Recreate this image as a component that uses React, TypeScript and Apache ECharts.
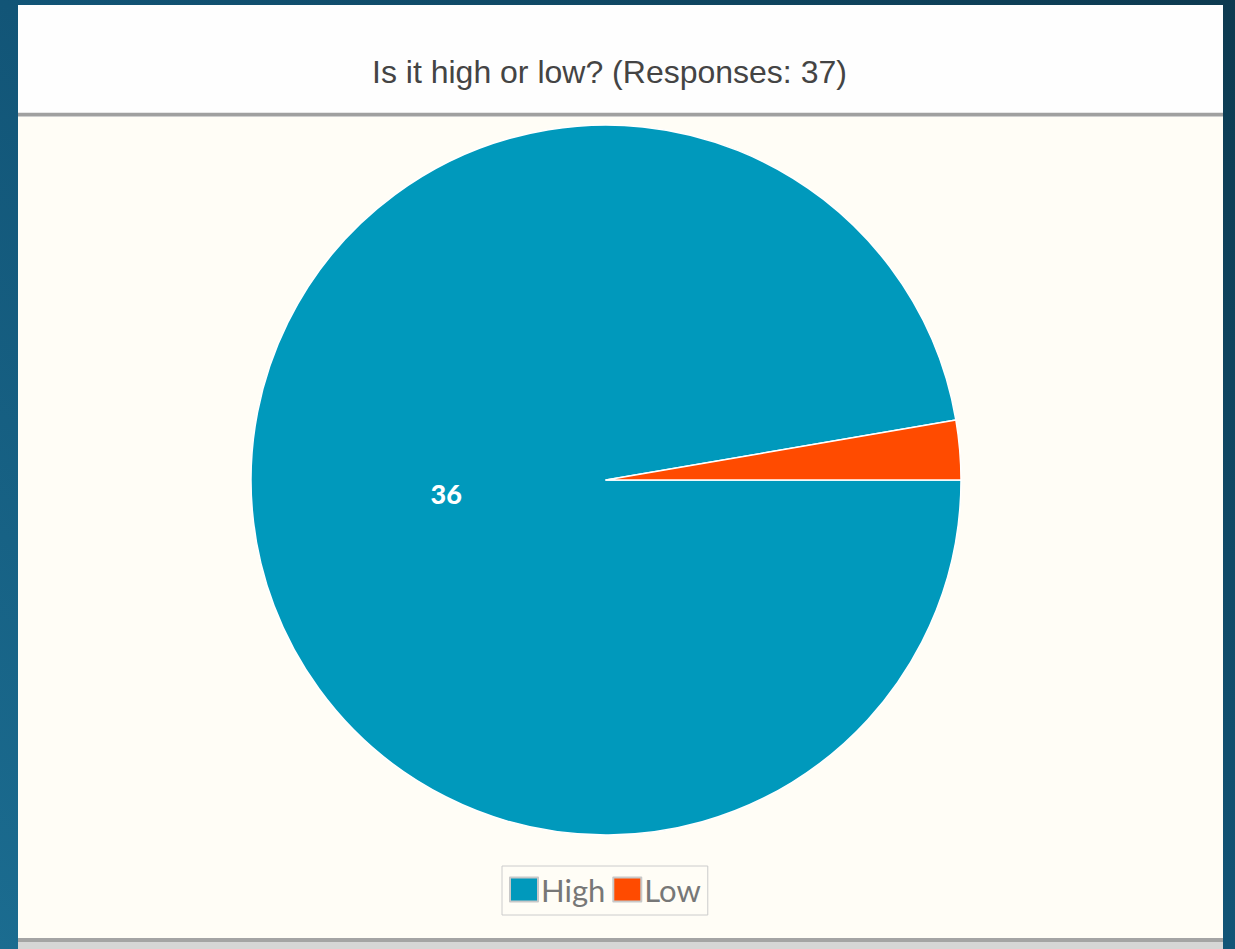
import React, { useEffect, useRef } from "react";
import * as echarts from "echarts";

const categories = ["High", "Low"];
const values = [36, 1];
const colors = ["#0099bc", "#ff4b00"];
const titleText = "Is it high or low? (Responses: 37)";

export default function App() {
  const ref = useRef<HTMLDivElement>(null);
  useEffect(() => {
    document.body.style.margin = "0";
    const chart = echarts.init(ref.current!, undefined, { renderer: "svg" });
    chart.setOption({
      animation: false,
      title: {
        text: titleText,
        left: 367,
        top: 51,
        textStyle: { fontFamily: "Liberation Sans", fontSize: 32, fontWeight: "normal", color: "#444" },
      },
      legend: {
        data: categories,
        left: 502,
        top: 866,
        orient: "horizontal",
        borderColor: "#cccccc",
        borderWidth: 1,
        padding: [8, 7, 10, 7],
        itemGap: 7,
        itemWidth: 28,
        itemHeight: 24,
        icon: "rect",
        itemStyle: { borderColor: "#c8c8c8", borderWidth: 2 },
        textStyle: { fontFamily: "Lato", fontSize: 31, color: "#777", padding: [0, 0, 0, -2] },
      },
      graphic: [
        {
          type: "rect",
          z: -10,
          shape: { x: 0, y: 0, width: 1235, height: 949 },
          style: {
            fill: new echarts.graphic.LinearGradient(0, 1, 1, 0, [
              { offset: 0, color: "#1b6c90" },
              { offset: 0.5, color: "#125577" },
              { offset: 1, color: "#0d3a50" },
            ]),
          },
        },
        { type: "rect", z: -9, shape: { x: 18, y: 5, width: 1205, height: 944 }, style: { fill: "#fefefe" } },
        { type: "rect", z: -9, shape: { x: 18, y: 117, width: 1205, height: 821 }, style: { fill: "#fffdf6" } },
        { type: "rect", z: -9, shape: { x: 18, y: 112, width: 1205, height: 1 }, style: { fill: "#e6e6e6" } },
        { type: "rect", z: -9, shape: { x: 18, y: 113, width: 1205, height: 3 }, style: { fill: "#a0a0a0" } },
        { type: "rect", z: -9, shape: { x: 18, y: 116, width: 1205, height: 1 }, style: { fill: "#cfcfcf" } },
        { type: "rect", z: -9, shape: { x: 18, y: 938, width: 1205, height: 4 }, style: { fill: "#a4a4a4" } },
        { type: "rect", z: -9, shape: { x: 18, y: 942, width: 1205, height: 7 }, style: { fill: "#d6d6d6" } },
      ],
      series: [
        {
          type: "pie",
          center: [606, 480],
          radius: 355,
          startAngle: 0,
          clockwise: true,
          avoidLabelOverlap: false,
          itemStyle: { borderColor: "#ffffff", borderWidth: 1.5 },
          label: {
            show: true,
            position: "inside",
            formatter: "{c}",
            color: "#ffffff",
            fontFamily: "Lato",
            fontWeight: 900,
            fontSize: 27,
            offset: [20, -2],
          },
          labelLine: { show: false },
          emphasis: { disabled: true },
          data: categories.map((name, i) => ({
            name,
            value: values[i],
            itemStyle: { color: colors[i] },
            label: { show: values[i] > 1 },
          })),
        },
      ],
    });
    return () => chart.dispose();
  }, []);
  return <div ref={ref} style={{ width: 1235, height: 949 }} />;
}
